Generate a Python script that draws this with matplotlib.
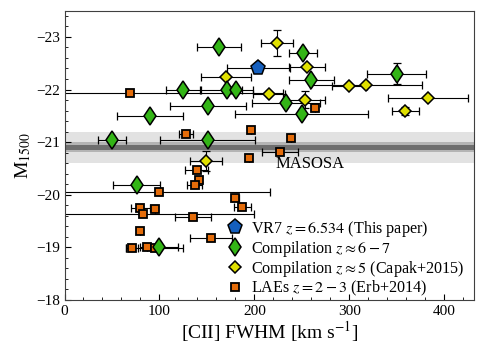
import numpy as np
import matplotlib
matplotlib.use("Agg")
import matplotlib.pyplot as plt
from matplotlib.ticker import MultipleLocator

plt.rcParams["font.family"] = ["Liberation Serif", "DejaVu Serif"]
plt.rcParams["mathtext.fontset"] = "stix"

# VR7, this paper
vr7_fwhm = [204]
vr7_fwhm_err = [33]
vr7_m1500 = [-22.40]

# compilation z ~ 6-7
c67_fwhm = [163, 251, 260, 350, 233, 250, 151, 90, 125, 171, 181, 50, 151, 76, 100]
c67_fwhm_err = [23, 15, 24, 31, 36, 70, 40, 35, 18, 27, 6, 15, 50, 25, 20]
c67_m1500 = [-22.80, -22.70, -22.19, -22.30, -21.75, -21.53, -21.69, -21.49,
             -22.00, -22.00, -22.00, -21.05, -21.05, -20.18, -19.01]
c67_m1500_err = [0, 0, 0, 0.2, 0, 0, 0, 0, 0, 0, 0, 0, 0, 0, 0]

# compilation z ~ 5 (Capak+2015)
c5_fwhm = [224, 170, 255, 300, 317, 383, 359, 215, 253, 149]
c5_fwhm_err = [17, 26, 19, 18, 59, 42, 14, 17, 21, 17]
c5_m1500 = [-22.89, -22.24, -22.42, -22.07, -22.09, -21.84, -21.59, -21.91, -21.81, -20.64]
c5_m1500_err = [0.25, 0, 0, 0, 0, 0, 0.07, 0, 0.16, 0.19]

# LAEs z = 2-3 (Erb+2014)
lae_fwhm = [69, 128, 196, 238, 227, 264, 194, 139, 142, 137, 180, 99,
            80, 95, 83, 187, 135, 80, 154, 71, 87, 95]
lae_fwhm_err = [161, 7, 0, 0, 19, 0, 0, 12, 0, 8, 4, 117,
                10, 0, 117, 9, 19, 0, 22, 6, 0, 30]
lae_m1500 = [-21.93, -21.15, -21.23, -21.08, -20.81, -21.64, -20.69, -20.47, -20.29, -20.18,
             -19.94, -20.05, -19.74, -19.73, -19.63, -19.77, -19.58, -19.31, -19.17,
             -18.99, -19.01, -18.99]

# MASOSA band
masosa_m1500 = -20.90
masosa_err = 0.30

fig = plt.figure(figsize=(4.85, 3.54), dpi=100)
ax = fig.add_axes([0.133, 0.1525, 0.844, 0.8175])

ax.axhspan(masosa_m1500 - masosa_err, masosa_m1500 + masosa_err, color="#e2e2e2", lw=0, zorder=0)
ax.axhspan(masosa_m1500 - 0.10, masosa_m1500 + 0.09, color="#b4b4b4", lw=0, zorder=0.1)
ax.axhspan(masosa_m1500 - 0.045, masosa_m1500 + 0.045, color="#6e6e6e", lw=0, zorder=0.2)
ax.text(222, -20.50, "MASOSA", fontsize=12, va="baseline", ha="left")

eb = dict(fmt="none", ecolor="black", elinewidth=0.8, capsize=3, capthick=0.9, zorder=2)
ax.errorbar(lae_fwhm, lae_m1500, xerr=lae_fwhm_err, **eb)
ax.errorbar(c5_fwhm, c5_m1500, xerr=c5_fwhm_err, yerr=c5_m1500_err, **eb)
ax.errorbar(c67_fwhm, c67_m1500, xerr=c67_fwhm_err, yerr=c67_m1500_err, **eb)
ax.errorbar(vr7_fwhm, vr7_m1500, xerr=vr7_fwhm_err, **eb)

h_lae, = ax.plot(lae_fwhm, lae_m1500, ls="none", marker="s", ms=5.8, mfc="#e46c0a",
                 mec="black", mew=1.3, zorder=3)
h_c5, = ax.plot(c5_fwhm, c5_m1500, ls="none", marker="D", ms=6.5, mfc="#e0e000",
                mec="black", mew=1.1, zorder=4)
h_c67, = ax.plot(c67_fwhm, c67_m1500, ls="none", marker="d", ms=9.5, mfc="#33b516",
                 mec="black", mew=1.1, zorder=4)
h_vr7, = ax.plot(vr7_fwhm, vr7_m1500, ls="none", marker="p", ms=11, mfc="#155fbe",
                 mec="black", mew=1.1, zorder=5)

ax.legend([h_vr7, h_c67, h_c5, h_lae],
          ["VR7 $z = 6.534$ (This paper)", r"Compilation $z \approx 6-7$",
           r"Compilation $z \approx 5$ (Capak+2015)", "LAEs $z = 2-3$ (Erb+2014)"],
          loc="lower left", bbox_to_anchor=(0.37, -0.027), frameon=False, fontsize=11.6,
          handlelength=1.2, handletextpad=0.4, labelspacing=0.0, borderaxespad=0.2)

ax.set_xlim(0, 431)
ax.set_ylim(-18, -23.5)
ax.xaxis.set_major_locator(MultipleLocator(100))
ax.xaxis.set_minor_locator(MultipleLocator(20))
ax.yaxis.set_major_locator(MultipleLocator(1))
ax.yaxis.set_minor_locator(MultipleLocator(0.2))
ax.tick_params(which="both", direction="in", top=False, right=False, labelsize=11)
ax.tick_params(which="major", length=4.5)
ax.tick_params(which="minor", length=2.5)
for s in ax.spines.values():
    s.set_color("#404040")

ax.set_xlabel(r"[CII] FWHM [km s$^{-1}$]", fontsize=14, labelpad=1)
ax.set_ylabel(r"M$_{1500}$", fontsize=14, labelpad=2)

fig.savefig("out.png", dpi=100)
